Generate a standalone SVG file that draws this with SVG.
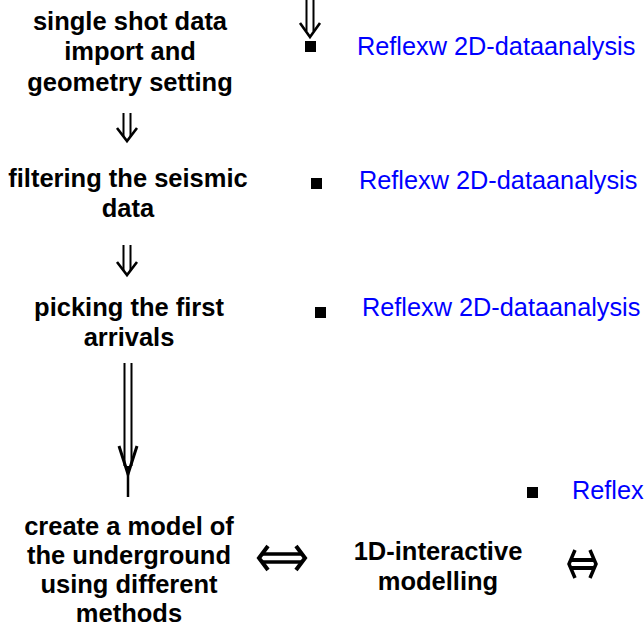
<svg xmlns="http://www.w3.org/2000/svg" width="644" height="640" viewBox="0 0 644 640">
<style>
.n{font-family:"Liberation Sans",Arial,sans-serif;font-weight:bold;font-size:25.5px;fill:#000;text-anchor:middle}
.b{font-family:"Liberation Sans",Arial,sans-serif;font-size:25.3px;fill:#0000ff}
.a{fill:none;stroke:#000;stroke-width:2}
.t{fill:none;stroke:#000;stroke-width:2.6}
.h{fill:none;stroke:#000;stroke-width:4;stroke-linejoin:miter}
</style>
<rect width="644" height="640" fill="#fff"/>
<g id="node1">
<text class="n" x="130" y="30">single shot data</text>
<text class="n" x="130" y="60">import and</text>
<text class="n" x="130" y="91">geometry setting</text>
</g>
<g id="node2">
<text class="n" x="128" y="187">filtering the seismic</text>
<text class="n" x="128" y="217">data</text>
</g>
<g id="node3">
<text class="n" x="129" y="316">picking the first</text>
<text class="n" x="129" y="346">arrivals</text>
</g>
<g id="node4">
<text class="n" x="129" y="535">create a model of</text>
<text class="n" x="129" y="564">the underground</text>
<text class="n" x="129" y="593">using different</text>
<text class="n" x="129" y="622">methods</text>
</g>
<g id="node5">
<text class="n" x="438" y="560">1D-interactive</text>
<text class="n" x="438" y="590">modelling</text>
</g>
<g id="labels">
<rect x="305" y="41" width="11" height="11"/>
<text class="b" x="357" y="55">Reflexw 2D-dataanalysis</text>
<rect x="311" y="178" width="11" height="11"/>
<text class="b" x="359" y="189">Reflexw 2D-dataanalysis</text>
<rect x="315" y="307" width="11" height="11"/>
<text class="b" x="362" y="316">Reflexw 2D-dataanalysis</text>
<rect x="527" y="487" width="11" height="11"/>
<text class="b" x="572" y="499">Reflex</text>
</g>
<g id="connectors">
<path class="a" d="M306.5 0V31M313.5 0V31"/>
<path class="t" d="M300 23L310 37L320 23"/>
<path class="a" d="M123.5 113V137M130.5 113V137"/>
<path class="t" d="M117 128L127 141L137 128"/>
<path class="a" d="M123.5 245V271M130.5 245V271"/>
<path class="t" d="M117 262L127 275L137 262"/>
<path class="a" d="M124.5 363V466M131.5 363V466"/>
<path fill="none" stroke="#000" stroke-width="3" d="M119 446L128 474L137 446"/>
<path fill="none" stroke="#000" stroke-width="2.5" d="M128 466V497"/>
<path class="h" d="M268 546L259 558L268 570M296 546L305 558L296 570"/>
<path fill="none" stroke="#000" stroke-width="3.5" d="M262 554H302M262 562H302"/>
<path fill="none" stroke="#000" stroke-width="3.5" d="M575 550L569 564L575 578M590 550L596 564L590 578"/>
<path fill="none" stroke="#000" stroke-width="4" d="M570 560H595M570 568H595"/>
</g>
</svg>
